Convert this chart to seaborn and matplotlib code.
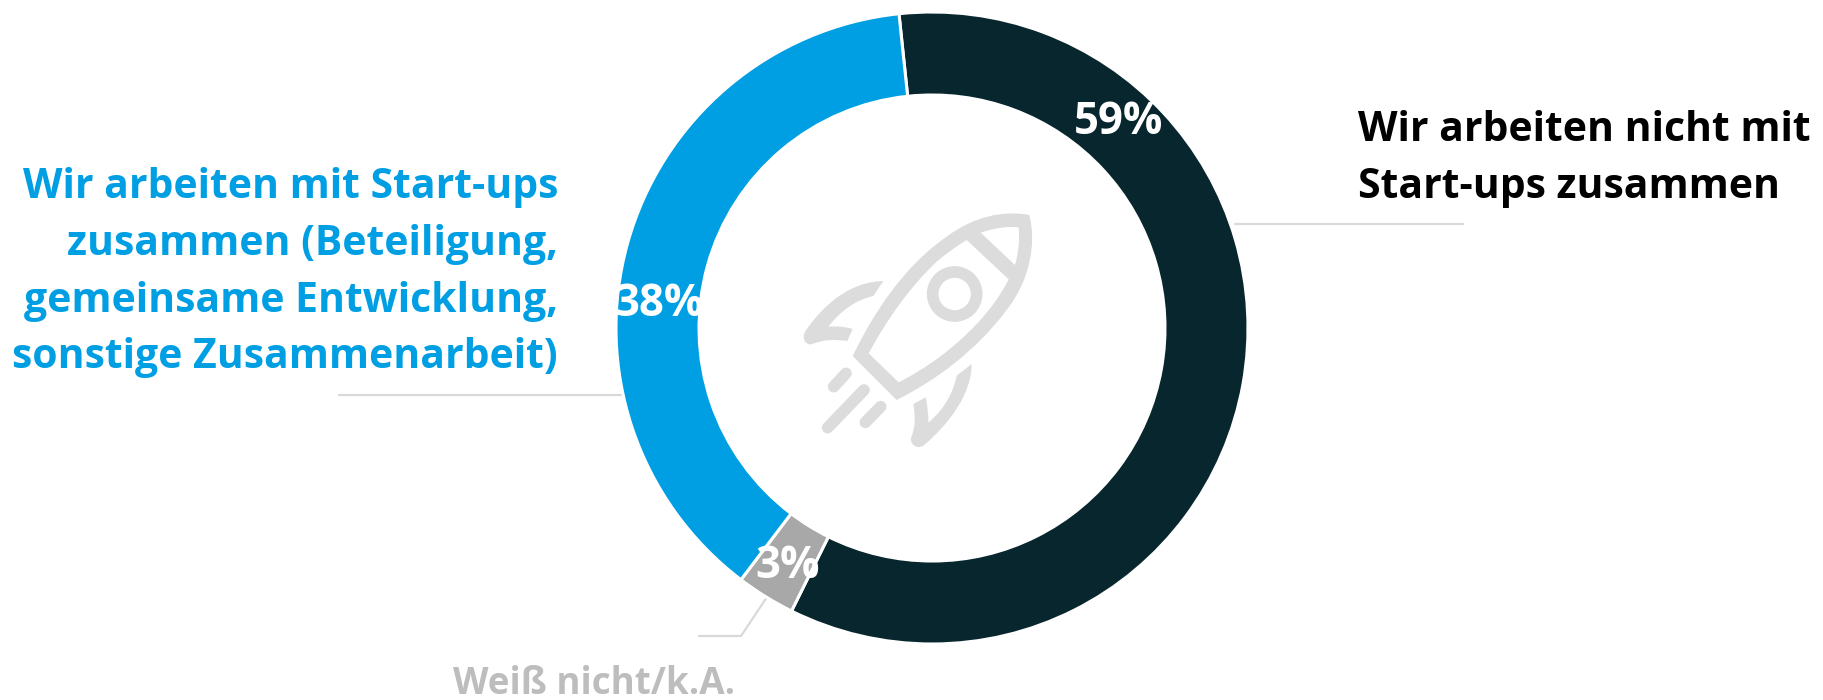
import matplotlib
matplotlib.use("Agg")
import matplotlib.pyplot as plt
from matplotlib.path import Path
from matplotlib.patches import PathPatch, Circle
import seaborn as sns

# Values
categories = ["Wir arbeiten nicht mit Start-ups zusammen", "Weiß nicht/k.A.", "Wir arbeiten mit Start-ups zusammen"]
shares = [59, 3, 38]
colors = ["#08262e", "#a8a8a8", "#009fe3"]

right_lines = ["Wir arbeiten nicht mit", "Start-ups zusammen"]
left_lines = ["Wir arbeiten mit Start-ups", "zusammen (Beteiligung,", "gemeinsame Entwicklung,", "sonstige Zusammenarbeit)"]
grey_label = "Weiß nicht/k.A."

ICON = "#dcdcdc"
LEADER = "#d9d9d9"
FONT = "Open Sans"

sns.set_theme(style="white")
plt.rcParams["font.family"] = [FONT, "DejaVu Sans"]

fig = plt.figure(figsize=(18.23, 7), dpi=100)
ax = fig.add_axes([0, 0, 1, 1])


# pixel position (from the top left) to axes coordinates
def py(y):
    return 700 - y


# Donut
ax.pie(shares, colors=colors, startangle=96, counterclock=False,
       center=(932, py(328)), radius=316,
       wedgeprops={"width": 83, "edgecolor": "white", "linewidth": 2.2, "zorder": 2})
ax.set_xlim(0, 1823)
ax.set_ylim(0, 700)
ax.set_aspect("equal")
ax.axis("off")

# Leader lines
ax.plot([1235, 1463], [py(224), py(224)], color=LEADER, lw=1.6, zorder=1)
ax.plot([339, 622], [py(395), py(395)], color=LEADER, lw=1.6, zorder=1)
ax.plot([699, 741, 767], [py(636), py(636), py(597)], color=LEADER, lw=1.6, zorder=1)

# Labels
for line, y in zip(right_lines, [141, 198]):
    ax.text(1358, py(y), line, color="black", fontsize=29.4, fontweight="bold", ha="left", va="baseline")
for line, y in zip(left_lines, [198, 255, 312, 368]):
    ax.text(558, py(y), line, color=colors[2], fontsize=29.4, fontweight="bold", ha="right", va="baseline")
ax.text(594, py(694), grey_label, color="#bdbdbd", fontsize=26.5, fontweight="bold", ha="center", va="baseline")

# Percent labels
for value, x, y in zip(shares, [1119, 788, 659], [123, 566, 304]):
    ax.text(x, py(y), f"{value}%", color="white", fontsize=31.5, fontweight="bold", ha="center", va="center", zorder=5)


# Rocket icon
def ic(x, y):
    return (760 + x / 3, py(180 + y / 3))


def shape(parts):
    verts, codes = [], []
    for part in parts:
        for cmd in part:
            if cmd[0] == "M":
                verts.append(ic(*cmd[1:3])); codes.append(Path.MOVETO)
            elif cmd[0] == "L":
                verts.append(ic(*cmd[1:3])); codes.append(Path.LINETO)
            elif cmd[0] == "C":
                verts += [ic(*cmd[1:3]), ic(*cmd[3:5]), ic(*cmd[5:7])]
                codes += [Path.CURVE4] * 3
        verts.append(verts[-1]); codes.append(Path.CLOSEPOLY)
    return Path(verts, codes)


body_outer = [("M", 278, 528), ("C", 340, 400, 430, 260, 560, 170), ("C", 640, 110, 730, 90, 808, 105),
              ("C", 830, 190, 810, 300, 740, 390), ("C", 650, 510, 530, 600, 410, 660)]
nose_hole = [("M", 662, 158), ("L", 765, 255), ("C", 775, 220, 780, 180, 776, 142), ("C", 740, 138, 700, 145, 662, 158)]
body_hole = [("M", 620, 180), ("C", 590, 198, 560, 220, 530, 245), ("C", 450, 320, 380, 420, 326, 520),
             ("L", 416, 607), ("C", 450, 590, 500, 560, 540, 530), ("C", 620, 470, 700, 390, 746, 298)]
left_fin = [("M", 370, 303), ("C", 280, 305, 200, 360, 135, 455), ("C", 125, 475, 135, 495, 155, 493),
            ("C", 190, 478, 225, 478, 262, 483), ("L", 278, 447), ("C", 255, 440, 230, 438, 205, 440),
            ("C", 240, 395, 285, 360, 340, 348)]
right_fin = [("M", 635, 552), ("C", 635, 640, 570, 730, 490, 797), ("C", 470, 810, 445, 790, 455, 768),
             ("C", 468, 735, 465, 705, 460, 672), ("L", 497, 652), ("C", 503, 680, 505, 700, 505, 728),
             ("C", 550, 690, 580, 640, 590, 587)]

ax.add_patch(PathPatch(shape([body_outer, nose_hole, body_hole]), facecolor=ICON, edgecolor="none", zorder=3))
ax.add_patch(PathPatch(shape([left_fin]), facecolor=ICON, edgecolor="none", zorder=3))
ax.add_patch(PathPatch(shape([right_fin]), facecolor=ICON, edgecolor="none", zorder=3))
ax.add_patch(Circle(ic(584, 342), 22, facecolor="none", edgecolor=ICON, linewidth=8.4, zorder=3))

for a, b in [((221, 620), (258, 580)), ((203, 743), (312, 630)), ((316, 727), (362, 680))]:
    ax.plot(*zip(ic(*a), ic(*b)), color=ICON, lw=8.4, solid_capstyle="round", zorder=3)

fig.savefig("out.png", dpi=100)
